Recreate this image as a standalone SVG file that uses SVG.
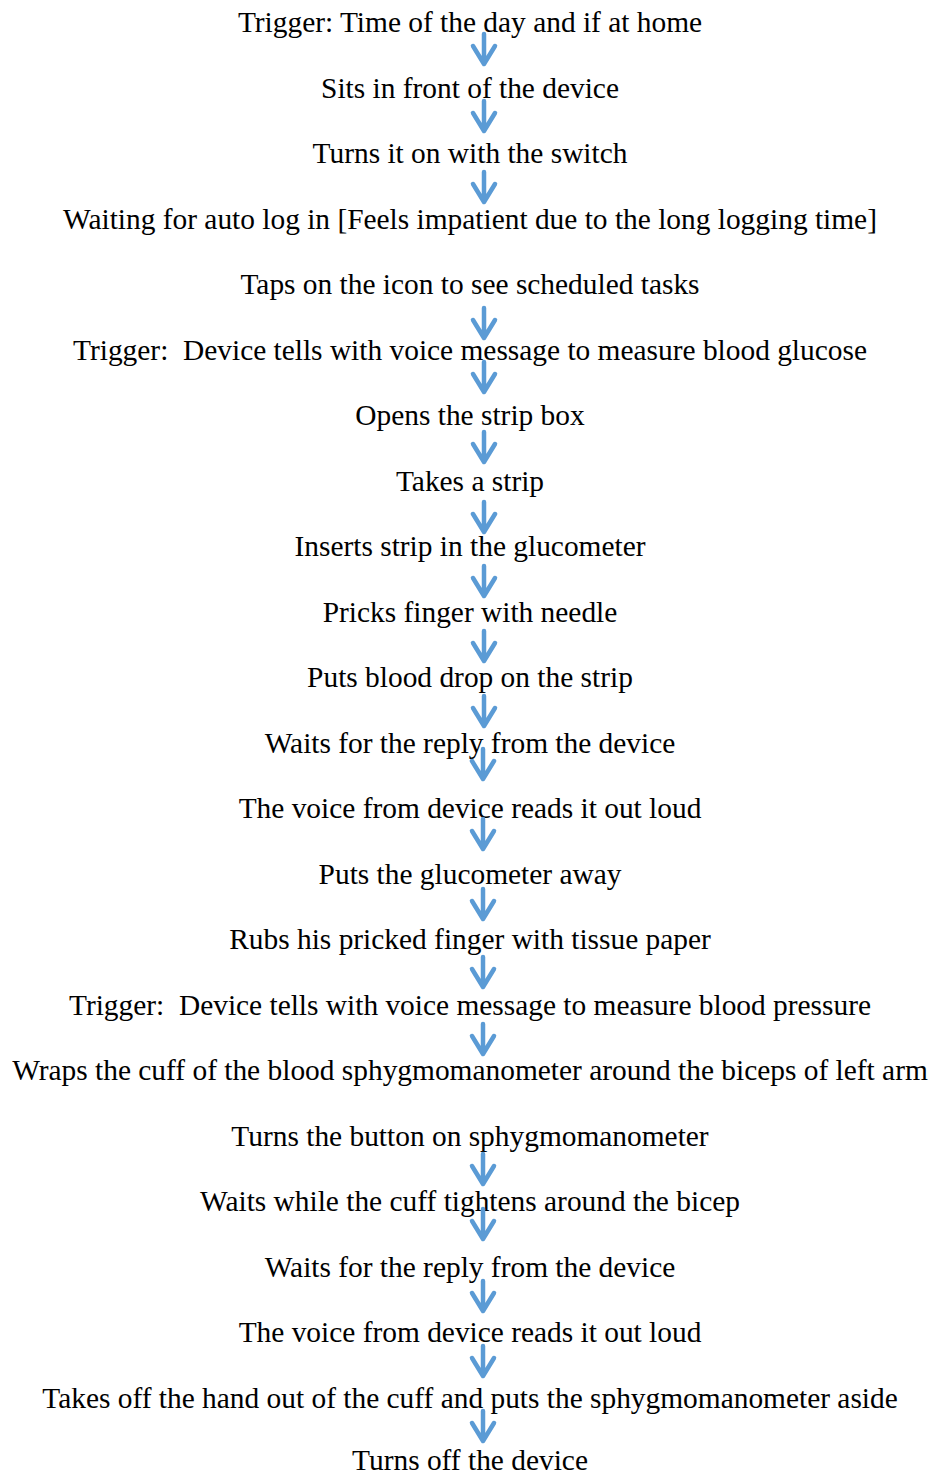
<svg xmlns="http://www.w3.org/2000/svg" width="931" height="1475" viewBox="0 0 931 1475">
  <style>
    .step { font-family: "Liberation Serif", "Times New Roman", serif; font-size: 29.4px; fill: #000; text-anchor: middle; }
    .flow { fill: none; stroke: #5B9BD5; stroke-width: 4.5; stroke-linecap: round; stroke-linejoin: round; }
  </style>
  <defs>
    <!-- downward chevron arrow, tip at origin -->
    <path id="down" class="flow" d="M0,-30 V0 M-11,-18 L0,0 L11,-18"/>
  </defs>
  <rect width="931" height="1475" fill="#fff"/>

  <g id="n01"><text class="step" x="470" y="32">Trigger: Time of the day and if at home</text></g>
  <g id="n02"><text class="step" x="470" y="98">Sits in front of the device</text></g>
  <g id="n03"><text class="step" x="470" y="163">Turns it on with the switch</text></g>
  <g id="n04"><text class="step" x="470" y="229">Waiting for auto log in [Feels impatient due to the long logging time]</text></g>
  <g id="n05"><text class="step" x="470" y="294">Taps on the icon to see scheduled tasks</text></g>
  <g id="n06"><text class="step" x="470" y="360" xml:space="preserve">Trigger:  Device tells with voice message to measure blood glucose</text></g>
  <g id="n07"><text class="step" x="470" y="425">Opens the strip box</text></g>
  <g id="n08"><text class="step" x="470" y="491">Takes a strip</text></g>
  <g id="n09"><text class="step" x="470" y="556">Inserts strip in the glucometer</text></g>
  <g id="n10"><text class="step" x="470" y="622">Pricks finger with needle</text></g>
  <g id="n11"><text class="step" x="470" y="687">Puts blood drop on the strip</text></g>
  <g id="n12"><text class="step" x="470" y="753">Waits for the reply from the device</text></g>
  <g id="n13"><text class="step" x="470" y="818">The voice from device reads it out loud</text></g>
  <g id="n14"><text class="step" x="470" y="884">Puts the glucometer away</text></g>
  <g id="n15"><text class="step" x="470" y="949">Rubs his pricked finger with tissue paper</text></g>
  <g id="n16"><text class="step" x="470" y="1015" xml:space="preserve">Trigger:  Device tells with voice message to measure blood pressure</text></g>
  <g id="n17"><text class="step" x="470" y="1080">Wraps the cuff of the blood sphygmomanometer around the biceps of left arm</text></g>
  <g id="n18"><text class="step" x="470" y="1146">Turns the button on sphygmomanometer</text></g>
  <g id="n19"><text class="step" x="470" y="1211">Waits while the cuff tightens around the bicep</text></g>
  <g id="n20"><text class="step" x="470" y="1277">Waits for the reply from the device</text></g>
  <g id="n21"><text class="step" x="470" y="1342">The voice from device reads it out loud</text></g>
  <g id="n22"><text class="step" x="470" y="1408">Takes off the hand out of the cuff and puts the sphygmomanometer aside</text></g>
  <g id="n23"><text class="step" x="470" y="1470">Turns off the device</text></g>

  <g id="connectors">
    <use href="#down" x="484" y="64"/>
    <use href="#down" x="484" y="131"/>
    <use href="#down" x="484" y="202"/>
    <use href="#down" x="484" y="338"/>
    <use href="#down" x="484" y="392"/>
    <use href="#down" x="484" y="462"/>
    <use href="#down" x="484" y="532"/>
    <use href="#down" x="484" y="596"/>
    <use href="#down" x="484" y="661"/>
    <use href="#down" x="484" y="726"/>
    <use href="#down" x="483" y="779"/>
    <use href="#down" x="483" y="849"/>
    <use href="#down" x="483" y="919"/>
    <use href="#down" x="483" y="987"/>
    <use href="#down" x="483" y="1054"/>
    <use href="#down" x="483" y="1184"/>
    <use href="#down" x="483" y="1239"/>
    <use href="#down" x="483" y="1311"/>
    <use href="#down" x="483" y="1376"/>
    <use href="#down" x="483" y="1441"/>
  </g>
</svg>
